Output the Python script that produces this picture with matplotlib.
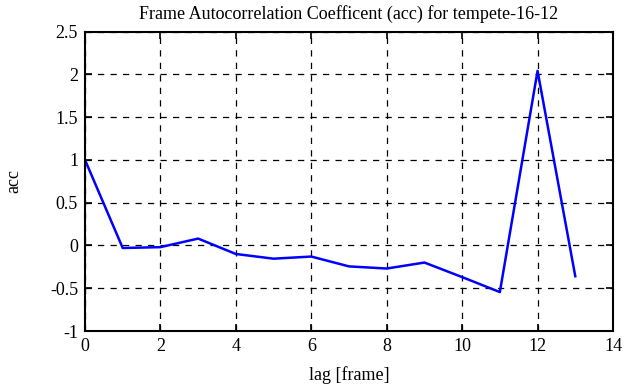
import matplotlib
matplotlib.use("Agg")
import matplotlib.pyplot as plt

lags = [0, 1, 2, 3, 4, 5, 6, 7, 8, 9, 10, 11, 12, 13]
acc = [1.0, -0.03, -0.02, 0.08, -0.10, -0.155, -0.13, -0.245, -0.27, -0.20, -0.37, -0.545, 2.04, -0.36]
xticks = [0, 2, 4, 6, 8, 10, 12, 14]
yticks = [-1, -0.5, 0, 0.5, 1, 1.5, 2, 2.5]
ytick_labels = ["-1", "-0.5", "0", "0.5", "1", "1.5", "2", "2.5"]

plt.rcParams['font.family'] = ['Liberation Serif', 'DejaVu Serif']
plt.rcParams['font.size'] = 13

fig = plt.figure(figsize=(6.41, 3.87), dpi=100)
ax = fig.add_axes([0.1326, 0.1447, 0.8237, 0.7739])
ax.plot(lags, acc, color='#0000ff', linewidth=1.8)
ax.set_xlim(0, 14)
ax.set_ylim(-1, 2.5)
ax.set_xticks(xticks)
ax.set_yticks(yticks)
ax.set_yticklabels(ytick_labels)
ax.grid(True, color='black', linestyle=(0, (5, 5)), linewidth=0.9)
ax.tick_params(direction='in', top=True, right=True, length=5, width=1.2, labelsize=13, pad=5)
for s in ax.spines.values():
    s.set_linewidth(1.5)
ax.set_xlabel('lag [frame]', fontsize=13, labelpad=8)
ax.set_ylabel('acc', fontsize=13, labelpad=20)
ax.set_title('Frame Autocorrelation Coefficent (acc) for tempete-16-12', fontsize=13, pad=9)
fig.savefig('out.png', dpi=100)
